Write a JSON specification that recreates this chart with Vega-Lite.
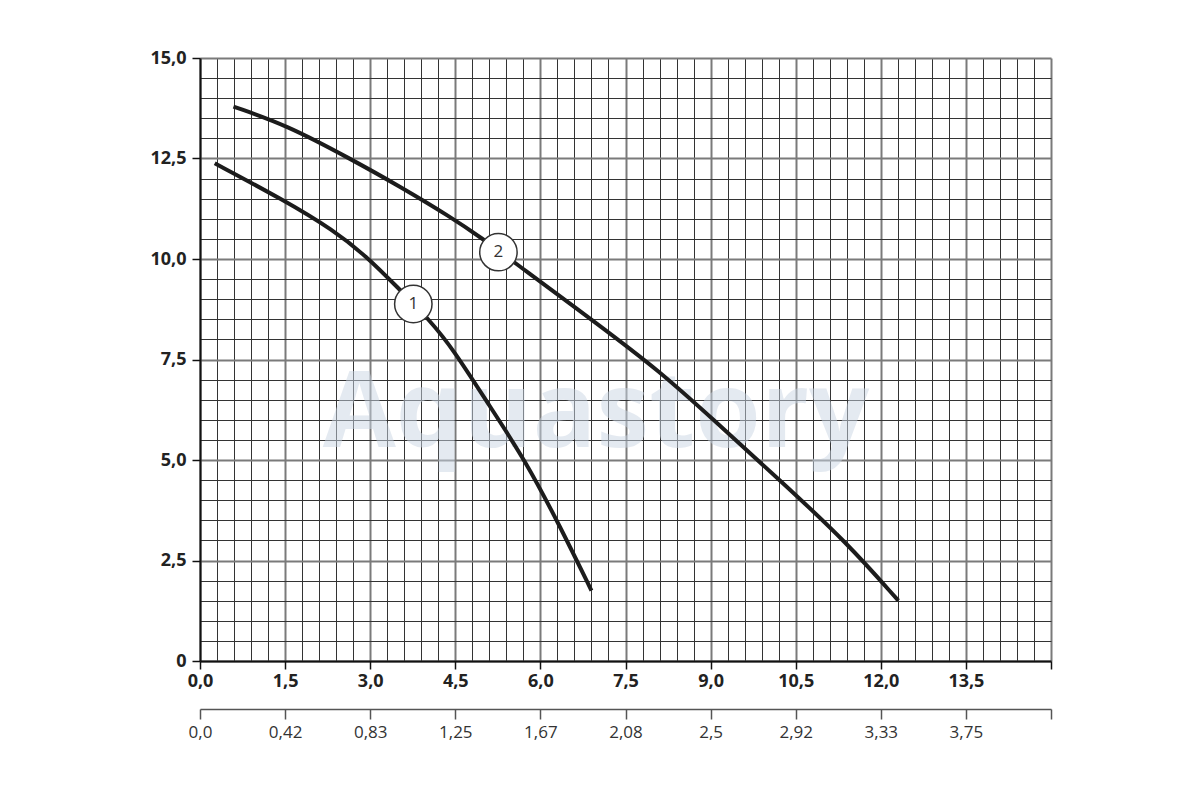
{
  "$schema": "https://vega.github.io/schema/vega-lite/v6.json",
  "autosize": "none",
  "width": 851,
  "height": 603,
  "padding": {"left": 200, "top": 58, "right": 149, "bottom": 139},
  "background": "white",
  "config": {
    "view": {"stroke": null},
    "font": "Open Sans"
  },
  "datasets": {
    "curves": [
      {"curve": "1", "q": 0.26, "h": 12.38},
      {"curve": "1", "q": 1.47, "h": 11.47},
      {"curve": "1", "q": 2.35, "h": 10.72},
      {"curve": "1", "q": 2.94, "h": 10.06},
      {"curve": "1", "q": 3.47, "h": 9.31},
      {"curve": "1", "q": 4.05, "h": 8.48},
      {"curve": "1", "q": 4.47, "h": 7.74},
      {"curve": "1", "q": 5.11, "h": 6.33},
      {"curve": "1", "q": 5.73, "h": 5.0},
      {"curve": "1", "q": 6.35, "h": 3.34},
      {"curve": "1", "q": 6.9, "h": 1.75},
      {"curve": "2", "q": 0.59, "h": 13.79},
      {"curve": "2", "q": 1.53, "h": 13.33},
      {"curve": "2", "q": 2.64, "h": 12.5},
      {"curve": "2", "q": 3.53, "h": 11.8},
      {"curve": "2", "q": 4.41, "h": 11.05},
      {"curve": "2", "q": 4.94, "h": 10.55},
      {"curve": "2", "q": 5.64, "h": 9.81},
      {"curve": "2", "q": 6.99, "h": 8.4},
      {"curve": "2", "q": 8.11, "h": 7.2},
      {"curve": "2", "q": 9.05, "h": 6.0},
      {"curve": "2", "q": 10.22, "h": 4.5},
      {"curve": "2", "q": 11.4, "h": 2.95},
      {"curve": "2", "q": 12.31, "h": 1.5}
    ],
    "markers": [
      {"curve": "1", "q": 3.76, "h": 8.88},
      {"curve": "2", "q": 5.26, "h": 10.17}
    ],
    "watermark": [
      {"text": "Aquastory", "q": 6.98, "h": 5.32}
    ]
  },
  "encoding": {
    "y": {
      "field": "h",
      "type": "quantitative",
      "scale": {"domain": [0, 15], "nice": false, "zero": true},
      "axis": {
        "title": null,
        "values": [0, 0.5, 1, 1.5, 2, 2.5, 3, 3.5, 4, 4.5, 5, 5.5, 6, 6.5, 7, 7.5, 8, 8.5, 9, 9.5, 10, 10.5, 11, 11.5, 12, 12.5, 13, 13.5, 14, 14.5, 15],
        "grid": true,
        "gridColor": {"condition": {"test": "abs(datum.value/2.5 - round(datum.value/2.5)) < 0.01", "value": "#7a7a7a"}, "value": "#333333"},
        "gridWidth": {"condition": {"test": "abs(datum.value/2.5 - round(datum.value/2.5)) < 0.01", "value": 2}, "value": 1},
        "domainColor": "#111111",
        "domainWidth": 2,
        "tickColor": "#111111",
        "tickWidth": 1.5,
        "tickSize": 8,
        "tickOpacity": {"condition": {"test": "abs(datum.value/2.5 - round(datum.value/2.5)) < 0.01", "value": 1}, "value": 0},
        "labelExpr": "abs(datum.value/2.5 - round(datum.value/2.5)) < 0.01 ? (datum.value == 0 ? '0' : replace(format(datum.value, '.1f'), '.', ',')) : ''",
        "labelFont": "Open Sans",
        "labelFontWeight": "bold",
        "labelFontSize": 18,
        "labelColor": "#222222",
        "labelPadding": 6,
        "labelOverlap": false,
        "labelFlush": false
      }
    }
  },
  "layer": [
    {
      "data": {"name": "watermark"},
      "mark": {"type": "text", "font": "Open Sans", "fontWeight": "bold", "fontSize": 106, "color": "#cbd6e4", "opacity": 0.5, "align": "center", "baseline": "alphabetic"},
      "encoding": {
        "x": {"field": "q", "type": "quantitative", "scale": {"domain": [0, 15], "nice": false}, "axis": null},
        "text": {"field": "text"}
      }
    },
    {
      "data": {"name": "curves"},
      "mark": {"type": "line", "interpolate": "basis", "strokeWidth": 4, "color": "#1c1c1c", "strokeCap": "butt"},
      "encoding": {
        "x": {
          "field": "q",
          "type": "quantitative",
          "scale": {"domain": [0, 15], "nice": false},
          "axis": {
            "orient": "bottom",
            "title": null,
            "values": [0, 0.3, 0.6, 0.9, 1.2, 1.5, 1.8, 2.1, 2.4, 2.7, 3, 3.3, 3.6, 3.9, 4.2, 4.5, 4.8, 5.1, 5.4, 5.7, 6, 6.3, 6.6, 6.9, 7.2, 7.5, 7.8, 8.1, 8.4, 8.7, 9, 9.3, 9.6, 9.9, 10.2, 10.5, 10.8, 11.1, 11.4, 11.7, 12, 12.3, 12.6, 12.9, 13.2, 13.5, 13.8, 14.1, 14.4, 14.7, 15],
            "grid": true,
            "gridColor": {"condition": {"test": "abs(datum.value/1.5 - round(datum.value/1.5)) < 0.01", "value": "#7a7a7a"}, "value": "#333333"},
            "gridWidth": {"condition": {"test": "abs(datum.value/1.5 - round(datum.value/1.5)) < 0.01", "value": 2}, "value": 1},
            "domainColor": "#111111",
            "domainWidth": 2,
            "tickColor": "#111111",
            "tickWidth": 1.5,
            "tickSize": 8,
            "tickOpacity": {"condition": {"test": "abs(datum.value/1.5 - round(datum.value/1.5)) < 0.01", "value": 1}, "value": 0},
            "labelExpr": "abs(datum.value/1.5 - round(datum.value/1.5)) < 0.01 && datum.value < 14.9 ? replace(format(datum.value, '.1f'), '.', ',') : ''",
            "labelFont": "Open Sans",
            "labelFontWeight": "bold",
            "labelFontSize": 18,
            "labelColor": "#222222",
            "labelPadding": 3,
            "labelOverlap": false,
            "labelFlush": false
          }
        },
        "detail": {"field": "curve"}
      }
    },
    {
      "data": {"name": "markers"},
      "mark": {"type": "point", "shape": "circle", "filled": true, "fill": "white", "stroke": "#333333", "strokeWidth": 1.5, "size": 1400, "opacity": 1},
      "encoding": {
        "x": {
          "field": "q",
          "type": "quantitative",
          "scale": {"domain": [0, 15], "nice": false},
          "axis": {
            "orient": "bottom",
            "offset": 48,
            "title": null,
            "values": [0, 1.5, 3, 4.5, 6, 7.5, 9, 10.5, 12, 13.5, 15],
            "grid": false,
            "domainColor": "#555555",
            "domainWidth": 1.5,
            "tickColor": "#555555",
            "tickWidth": 1.5,
            "tickSize": 10,
            "labelExpr": "datum.value > 14.9 ? '' : (datum.value == 0 ? '0,0' : replace(format(datum.value / 3.6, '.2~f'), '.', ','))",
            "labelFont": "Open Sans",
            "labelFontSize": 17,
            "labelColor": "#333333",
            "labelPadding": 5,
            "labelOverlap": false,
            "labelFlush": false
          }
        }
      }
    },
    {
      "data": {"name": "markers"},
      "mark": {"type": "text", "font": "Open Sans", "fontSize": 17, "color": "#333333", "align": "center", "baseline": "middle"},
      "encoding": {
        "x": {"field": "q", "type": "quantitative", "scale": {"domain": [0, 15], "nice": false}, "axis": null},
        "text": {"field": "curve"}
      }
    }
  ],
  "resolve": {"axis": {"x": "independent"}}
}
